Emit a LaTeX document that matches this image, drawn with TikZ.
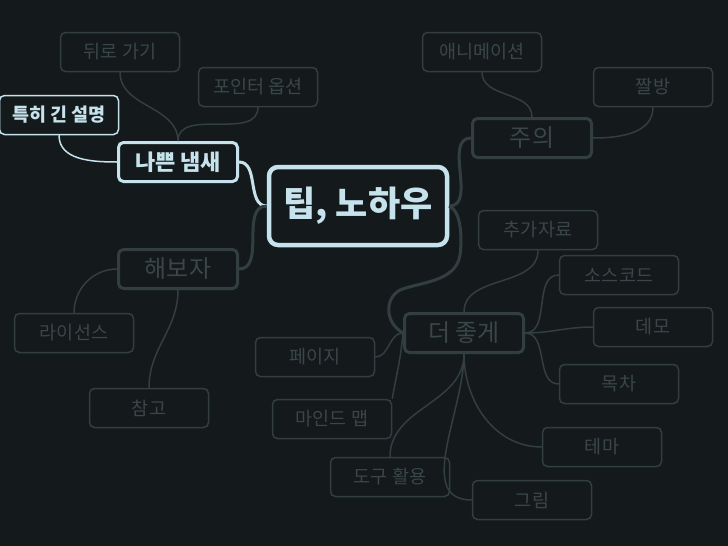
\documentclass[tikz,border=0pt]{standalone}
\usepackage{fontspec}
\setmainfont{Noto Sans CJK KR}
\definecolor{mybg}{RGB}{20,26,27}
\definecolor{mydim}{RGB}{50,62,64}
\definecolor{mydimtext}{RGB}{58,70,72}
\definecolor{mylight}{RGB}{198,226,236}
\begin{document}
\begin{tikzpicture}[x=1pt,y=1pt,
  leaf/.style={draw=mydim,line width=1.5pt,rounded corners=5pt,fill=mybg,
    minimum width=119pt,minimum height=39pt,text=mydimtext,
    font=\fontsize{18.5}{18.5}\selectfont},
  branch/.style={leaf,line width=3pt,font=\fontsize{24}{24}\selectfont},
  litleaf/.style={leaf,draw=mylight,text=mylight,font=\fontsize{18.5}{18.5}\selectfont\bfseries},
  litbranch/.style={branch,draw=mylight,text=mylight,font=\fontsize{22}{22}\selectfont\bfseries},
  rootnode/.style={draw=mylight,line width=4.5pt,rounded corners=9pt,fill=mybg,
    minimum width=178pt,minimum height=78pt,text=mylight,
    font=\fontsize{35}{35}\selectfont\bfseries},
  dimlink/.style={draw=mydim,line width=1.5pt},
  dimtrunk/.style={draw=mydim,line width=3pt},
  litlink/.style={draw=mylight,line width=1.5pt},
  littrunk/.style={draw=mylight,line width=3pt}]

 \useasboundingbox (0,0) rectangle (728,-546);
 \fill[mybg] (0,0) rectangle (728,-546);

 % centre and main branches
 \node[rootnode] (tip) at (358,-206) {팁, 노하우};
 \node[litbranch] (smell) at (178,-162) {나쁜 냄새};
 \node[branch] (tryit) at (178,-269) {해보자};
 \node[branch] (caution) at (532,-138) {주의};
 \node[branch] (better) at (464,-333) {더 좋게};

 % leaves on the left
 \node[litleaf] (long) at (59,-115) {특히 긴 설명};
 \node[leaf] (back) at (120,-52) {뒤로 가기};
 \node[leaf] (pointer) at (258,-87) {포인터 옵션};
 \node[leaf] (license) at (74,-333) {라이선스};
 \node[leaf] (refs) at (149,-408) {참고};

 % leaves on the right
 \node[leaf] (anim) at (482,-52) {애니메이션};
 \node[leaf] (meme) at (653,-87) {짤방};
 \node[leaf] (extra) at (538,-230) {추가자료};
 \node[leaf] (source) at (619,-275) {소스코드};
 \node[leaf] (demo) at (653,-327) {데모};
 \node[leaf] (toc) at (619,-384) {목차};
 \node[leaf] (theme) at (602,-447) {테마};
 \node[leaf] (figure) at (532,-500) {그림};
 \node[leaf] (page) at (315,-357) {페이지};
 \node[leaf] (mindmap) at (332,-419) {마인드 맵};
 \node[leaf] (tools) at (390,-477) {도구 활용};

 % trunks
 \draw[littrunk] (smell.east) to[out=0,in=180] (tip.west);
 \draw[dimtrunk] (tryit.east) to[out=0,in=180] (tip.west);
 \draw[dimtrunk] (tip.east) to[out=0,in=180] (caution.west);
 \draw[dimtrunk] (tip.east) .. controls (462,-212) and (462,-240) .. (460,-255)
   .. controls (456,-282) and (420,-282) .. (400,-290)
   .. controls (385,-298) and (384,-322) .. (better.west);

 % twigs
 \draw[dimlink] (back.south) to[out=-90,in=90] (smell.north);
 \draw[dimlink] (pointer.south) to[out=-90,in=90] (smell.north);
 \draw[litlink] (long.south) to[out=-90,in=180] (smell.west);
 \draw[dimlink] (tryit.west) to[out=180,in=90] (license.north);
 \draw[dimlink] (tryit.south) to[out=-90,in=90] (refs.north);
 \draw[dimlink] (anim.south) to[out=-90,in=90] (caution.north);
 \draw[dimlink] (meme.south) to[out=-90,in=0] (caution.east);
 \draw[dimlink] (better.north) to[out=90,in=-90] (extra.south);
 \draw[dimlink] (better.east) to[out=0,in=180] (source.west);
 \draw[dimlink] (better.east) to[out=0,in=180] (demo.west);
 \draw[dimlink] (better.east) to[out=0,in=180] (toc.west);
 \draw[dimlink] (better.south) to[out=-90,in=180] (theme.west);
 \draw[dimlink] (better.south) to[out=-90,in=180] (figure.west);
 \draw[dimlink] (better.south) to[out=-90,in=90] (tools.north);
 \draw[dimlink] (better.west) to[out=180,in=0] (page.east);
 \draw[dimlink] (better.west) to[out=-95,in=80] (mindmap.north east);

\end{tikzpicture}
\end{document}
